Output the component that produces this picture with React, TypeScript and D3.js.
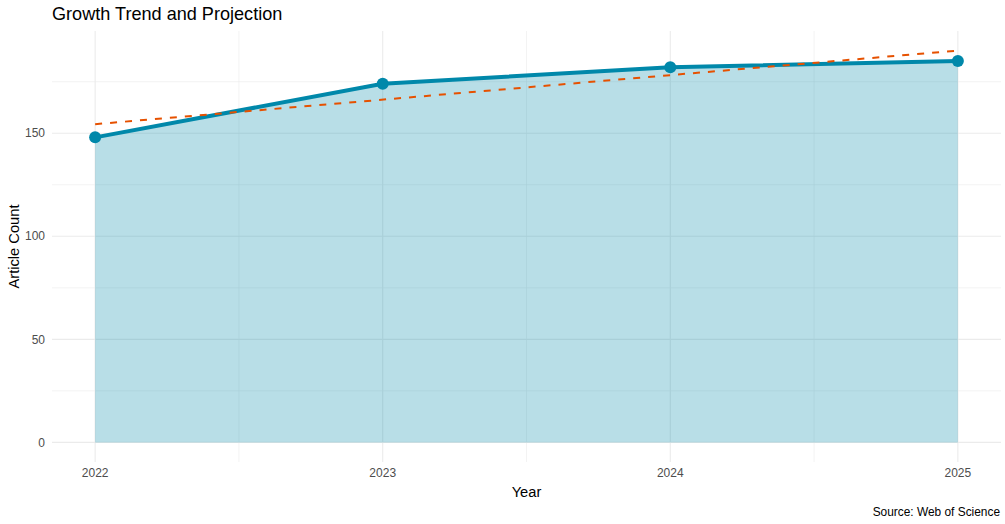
import React from "react";
import * as d3 from "d3";

const years = [2022, 2023, 2024, 2025];
const counts = [148, 174, 182, 185];
const yTicks = [0, 50, 100, 150];
const yMinor = [25, 75, 125, 175];
const xMinor = [2022.5, 2023.5, 2024.5];

const W = 1005, H = 524;
const panel = { left: 52, right: 1001, top: 31, bottom: 462 };

export default function App() {
  const mx = d3.mean(years)!;
  const my = d3.mean(counts)!;
  const slope =
    d3.sum(years.map((x, i) => (x - mx) * (counts[i] - my))) /
    d3.sum(years.map((x) => (x - mx) ** 2));
  const trend = (x: number) => my + slope * (x - mx);

  const x = d3.scaleLinear().domain([2022 - 0.15, 2025 + 0.15]).range([panel.left, panel.right]);
  const yMax = trend(2025);
  const pad = yMax * 0.05;
  const y = d3.scaleLinear().domain([-pad, yMax + pad]).range([panel.bottom, panel.top]);

  const data = years.map((yr, i) => ({ yr, v: counts[i] }));
  const area = d3.area<{ yr: number; v: number }>().x((d) => x(d.yr)).y0(y(0)).y1((d) => y(d.v));
  const line = d3.line<{ yr: number; v: number }>().x((d) => x(d.yr)).y((d) => y(d.v));
  const trendLine = d3.line<number>().x((d) => x(d)).y((d) => y(trend(d)));

  const font = "'Liberation Sans', Arial, sans-serif";
  const grid = "#ebebeb";

  return (
    <svg width={W} height={H} style={{ position: "absolute", left: 0, top: 0, fontFamily: font }}>
      <rect width={W} height={H} fill="white" />
      {yMinor.map((t) => (
        <line key={"ym" + t} x1={panel.left} x2={panel.right} y1={y(t)} y2={y(t)} stroke={grid} strokeWidth={0.6} />
      ))}
      {xMinor.map((t) => (
        <line key={"xm" + t} y1={panel.top} y2={panel.bottom} x1={x(t)} x2={x(t)} stroke={grid} strokeWidth={0.6} />
      ))}
      {yTicks.map((t) => (
        <line key={"y" + t} x1={panel.left} x2={panel.right} y1={y(t)} y2={y(t)} stroke={grid} strokeWidth={1.1} />
      ))}
      {years.map((t) => (
        <line key={"x" + t} y1={panel.top} y2={panel.bottom} x1={x(t)} x2={x(t)} stroke={grid} strokeWidth={1.1} />
      ))}
      <path d={area(data)!} fill="#0088aa" fillOpacity={0.28} />
      <path d={line(data)!} fill="none" stroke="#0088aa" strokeWidth={4} strokeLinejoin="round" />
      <path d={trendLine([2022, 2025])!} fill="none" stroke="#e65100" strokeWidth={2} strokeDasharray="7,8" />
      {data.map((d) => (
        <circle key={d.yr} cx={x(d.yr)} cy={y(d.v)} r={6} fill="#0088aa" />
      ))}
      {yTicks.map((t) => (
        <text key={"yl" + t} x={panel.left - 7} y={y(t)} dy="0.35em" textAnchor="end" fontSize={12} fill="#4d4d4d">
          {t}
        </text>
      ))}
      {years.map((t) => (
        <text key={"xl" + t} x={x(t)} y={477} textAnchor="middle" fontSize={12} fill="#4d4d4d">
          {t}
        </text>
      ))}
      <text x={(panel.left + panel.right) / 2} y={497} textAnchor="middle" fontSize={14.7} fill="black">
        Year
      </text>
      <text transform={`translate(19,${(panel.top + panel.bottom) / 2}) rotate(-90)`} textAnchor="middle" fontSize={14.7} fill="black">
        Article Count
      </text>
      <text x={52} y={20} fontSize={18.1} fill="black">
        Growth Trend and Projection
      </text>
      <text x={1000} y={516} textAnchor="end" fontSize={11.9} fill="black">
        Source: Web of Science
      </text>
    </svg>
  );
}
